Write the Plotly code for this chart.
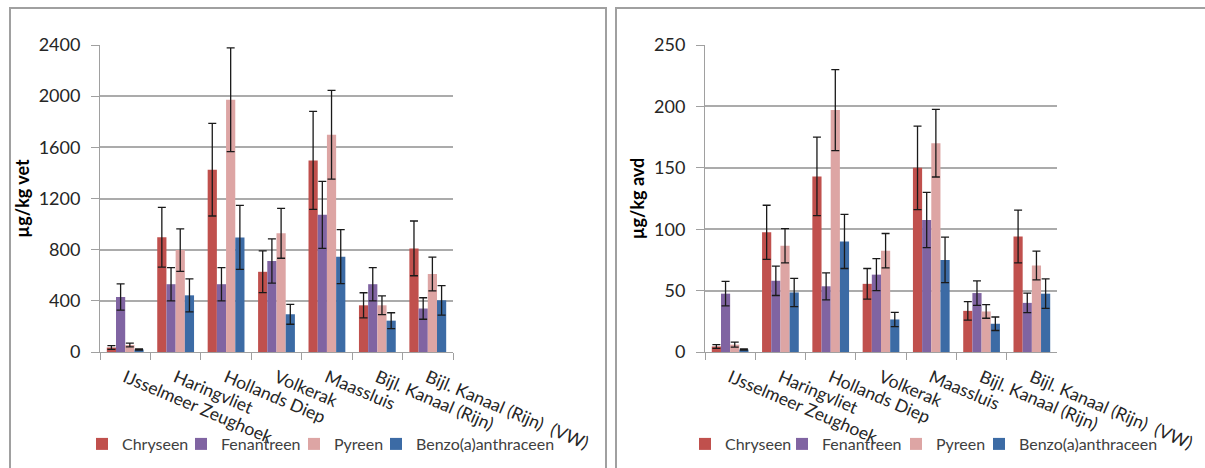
import plotly.graph_objects as go

W, H = 1205, 468

categories = ["IJsselmeer Zeughoek", "Haringvliet", "Hollands Diep", "Volkerak",
              "Maassluis", "Bijl. Kanaal (Rijn)", "Bijl. Kanaal (Rijn)  (VW)"]
series_names = ["Chryseen", "Fenantreen", "Pyreen", "Benzo(a)anthraceen"]
series_colors = ["#C0504D", "#8064A2", "#DDA5A4", "#3C6BA5"]

# µg/kg vet (left chart)
vet_chryseen = [35, 897, 1425, 627, 1498, 365, 810]
vet_fenantreen = [430, 530, 530, 712, 1072, 530, 340]
vet_pyreen = [55, 797, 1972, 928, 1698, 365, 610]
vet_benzo = [20, 443, 896, 295, 745, 245, 404]
vet_chryseen_err = [15, 234, 362, 163, 383, 98, 214]
vet_fenantreen_err = [102, 130, 130, 173, 262, 130, 84]
vet_pyreen_err = [15, 166, 405, 195, 347, 73, 132]
vet_benzo_err = [5, 129, 250, 78, 211, 62, 115]

# µg/kg avd (right chart)
avd_chryseen = [4.5, 97.5, 143, 55.5, 150, 33.5, 94]
avd_fenantreen = [47.5, 58, 53.5, 63, 107.5, 48, 40]
avd_pyreen = [6, 86.5, 197, 82.5, 170, 33, 70.5]
avd_benzo = [2, 48.5, 90, 26.5, 75, 23, 47.5]
avd_chryseen_err = [1.5, 22, 32, 12.5, 34, 7.5, 21.5]
avd_fenantreen_err = [10, 12, 11, 13, 22.5, 10, 8]
avd_pyreen_err = [2, 14, 33, 14, 27.5, 5.5, 11.7]
avd_benzo_err = [0.5, 11.5, 22, 5.8, 18.5, 5.5, 12]

vet_vals = [vet_chryseen, vet_fenantreen, vet_pyreen, vet_benzo]
vet_errs = [vet_chryseen_err, vet_fenantreen_err, vet_pyreen_err, vet_benzo_err]
avd_vals = [avd_chryseen, avd_fenantreen, avd_pyreen, avd_benzo]
avd_errs = [avd_chryseen_err, avd_fenantreen_err, avd_pyreen_err, avd_benzo_err]

FONT = "Lato"
TXT = "#262626"
GRID = "#ABABAB"

# legend item anchor positions (pixels) per panel
legend_px_left = [82, 181, 294, 376]
legend_px_right = [685, 782, 896, 979]


def px_x(p):
    return p / W


def px_y(p):
    return 1 - p / H


fig = go.Figure()

legend_layout = {}
legcommon = dict(orientation="h", xanchor="left", yanchor="middle", y=px_y(444),
                 font=dict(family=FONT, size=16, color="#404040"),
                 bgcolor="rgba(0,0,0,0)", itemwidth=30)

k = 0
for vals, errs, xa, ya, lpx in [(vet_vals, vet_errs, "x", "y", legend_px_left),
                                (avd_vals, avd_errs, "x2", "y2", legend_px_right)]:
    for name, color, v, e, lx in zip(series_names, series_colors, vals, errs, lpx):
        k += 1
        lname = "legend" if k == 1 else f"legend{k}"
        fig.add_trace(go.Bar(
            x=categories, y=v, name=name, marker=dict(color=color, line=dict(width=0)),
            error_y=dict(type="data", array=e, visible=True, color="#1A1A1A",
                         thickness=1.3, width=4),
            xaxis=xa, yaxis=ya, legend=lname,
        ))
        legend_layout[lname] = dict(x=px_x(lx), **legcommon)

xdom1 = [px_x(100), px_x(453)]
xdom2 = [px_x(705), px_x(1057)]
ydom = [px_y(352), px_y(45)]

xcommon = dict(type="category", showline=True, linecolor="#A0A0A0", linewidth=1,
               ticks="outside", tickson="boundaries", ticklen=7, tickcolor="#A0A0A0",
               tickangle=23, ticklabelstandoff=8,
               tickfont=dict(family=FONT, size=17.5, color=TXT),
               showgrid=False, automargin=False)
ycommon = dict(showline=True, linecolor="#A0A0A0", linewidth=1, ticks="outside",
               ticklen=8, tickcolor="#A0A0A0", showgrid=True, gridcolor=GRID,
               gridwidth=1.6, zeroline=False, ticklabelstandoff=7,
               tickfont=dict(family=FONT, size=18, color=TXT), automargin=False)

fig.update_layout(
    width=W, height=H, margin=dict(l=0, r=0, t=0, b=0),
    paper_bgcolor="white", plot_bgcolor="white",
    barmode="group", bargap=0.27, bargroupgap=0,
    showlegend=True,
    xaxis=dict(domain=xdom1, anchor="y", **xcommon),
    yaxis=dict(domain=ydom, anchor="x", range=[0, 2400], dtick=400,
               title=dict(text="<b>µg/kg vet</b>", standoff=4,
                          font=dict(family=FONT, size=18, color="black")),
               **ycommon),
    xaxis2=dict(domain=xdom2, anchor="y2", **xcommon),
    yaxis2=dict(domain=ydom, anchor="x2", range=[0, 250], dtick=50,
                title=dict(text="<b>µg/kg avd</b>", standoff=4,
                           font=dict(family=FONT, size=18, color="black")),
                **ycommon),
    shapes=[
        dict(type="rect", xref="paper", yref="paper", x0=px_x(10), x1=px_x(606),
             y0=-0.2, y1=px_y(8), line=dict(color="#A0A0A0", width=2),
             fillcolor="rgba(0,0,0,0)", layer="below"),
        dict(type="rect", xref="paper", yref="paper", x0=px_x(616), x1=1.05,
             y0=-0.2, y1=px_y(8), line=dict(color="#A0A0A0", width=2),
             fillcolor="rgba(0,0,0,0)", layer="below"),
    ],
    **legend_layout,
)

fig.write_html("out.html")
